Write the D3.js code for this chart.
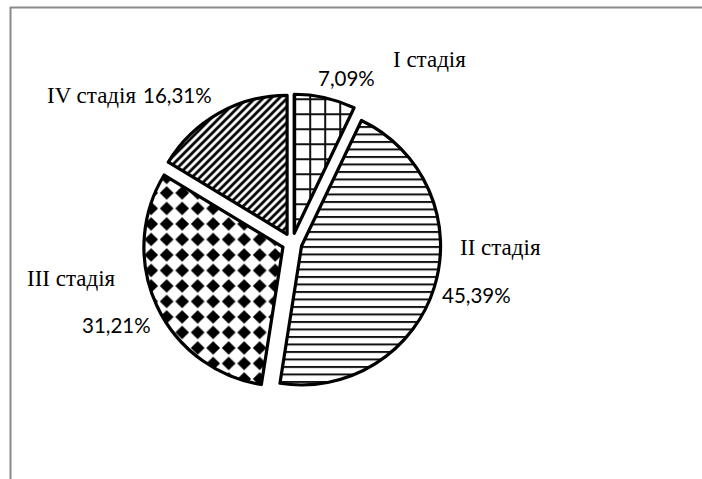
<!DOCTYPE html>
<html><head><meta charset="utf-8">
<script src="https://cdn.jsdelivr.net/npm/d3@7"></script>
<style>html,body{margin:0;padding:0;background:#fff;}svg{display:block;}</style>
</head><body>
<svg id="chart" width="702" height="479"></svg>
<script>
const categories = ["I стадія", "II стадія", "III стадія", "IV стадія"];
const values = [7.09, 45.39, 31.21, 16.31];
const patterns = ["grid", "hlines", "diamond", "diag"];

// layout (not data)
const cx = 292, cy = 243, R = 139, explode = 10;
const namePos = [[393, 67], [460, 255], [27, 286], [47, 103]];
const pctPos = [[318, 86], [442, 303], [82, 333], [143, 103]];

const svg = d3.select("#chart");
const defs = svg.append("defs");

// grid pattern
let p = defs.append("pattern").attr("id", "grid").attr("patternUnits", "userSpaceOnUse")
  .attr("width", 15).attr("height", 15);
p.append("rect").attr("width", 15).attr("height", 15).attr("fill", "#fff");
p.append("path").attr("d", "M1,0V15M0,1H15").attr("stroke", "#111").attr("stroke-width", 2);

// horizontal lines
p = defs.append("pattern").attr("id", "hlines").attr("patternUnits", "userSpaceOnUse")
  .attr("width", 10).attr("height", 7.5);
p.append("rect").attr("width", 10).attr("height", 7.5).attr("fill", "#fff");
p.append("path").attr("d", "M0,1H10").attr("stroke", "#111").attr("stroke-width", 2);

// diamonds
p = defs.append("pattern").attr("id", "diamond").attr("patternUnits", "userSpaceOnUse")
  .attr("width", 15.5).attr("height", 15.5);
p.append("rect").attr("width", 15.5).attr("height", 15.5).attr("fill", "#fff");
p.append("path").attr("d", "M7.75,0.9L14.6,7.75L7.75,14.6L0.9,7.75Z").attr("fill", "#000");

// diagonal up
p = defs.append("pattern").attr("id", "diag").attr("patternUnits", "userSpaceOnUse")
  .attr("width", 8).attr("height", 8);
p.append("rect").attr("width", 8).attr("height", 8).attr("fill", "#fff");
p.append("path").attr("d", "M-2,2L2,-2M0,8L8,0M6,10L10,6").attr("stroke", "#000").attr("stroke-width", 2.8);

// frame
svg.append("line").attr("x1", 10).attr("x2", 702).attr("y1", 7.5).attr("y2", 7.5)
  .attr("stroke", "#8a8a8a").attr("stroke-width", 2);
svg.append("line").attr("x1", 10.5).attr("x2", 10.5).attr("y1", 7).attr("y2", 479)
  .attr("stroke", "#8a8a8a").attr("stroke-width", 2);

const pie = d3.pie().sort(null).startAngle(0).endAngle(2 * Math.PI);
const arcs = pie(values);
const arc = d3.arc().innerRadius(0).outerRadius(R);

const g = svg.append("g").attr("transform", `translate(${cx},${cy})`);
g.selectAll("path.slice").data(arcs).enter().append("path")
  .attr("class", "slice")
  .attr("transform", d => {
    const m = (d.startAngle + d.endAngle) / 2;
    return `translate(${explode * Math.sin(m)},${-explode * Math.cos(m)})`;
  })
  .attr("d", arc)
  .attr("fill", (d, i) => `url(#${patterns[i]})`)
  .attr("stroke", "#000").attr("stroke-width", 3.2).attr("stroke-linejoin", "round");

const fmt = v => v.toFixed(2).replace(".", ",") + "%";

svg.selectAll("text.name").data(categories).enter().append("text")
  .attr("class", "name")
  .attr("x", (d, i) => namePos[i][0]).attr("y", (d, i) => namePos[i][1])
  .attr("font-family", "'Liberation Serif', 'Times New Roman', serif")
  .attr("font-size", 23).attr("fill", "#000")
  .text(d => d);

svg.selectAll("text.pct").data(values).enter().append("text")
  .attr("class", "pct")
  .attr("x", (d, i) => pctPos[i][0]).attr("y", (d, i) => pctPos[i][1])
  .attr("font-family", "Lato, 'Open Sans', sans-serif")
  .attr("font-size", 20.5).attr("fill", "#000")
  .text(d => fmt(d));
</script>
</body></html>
